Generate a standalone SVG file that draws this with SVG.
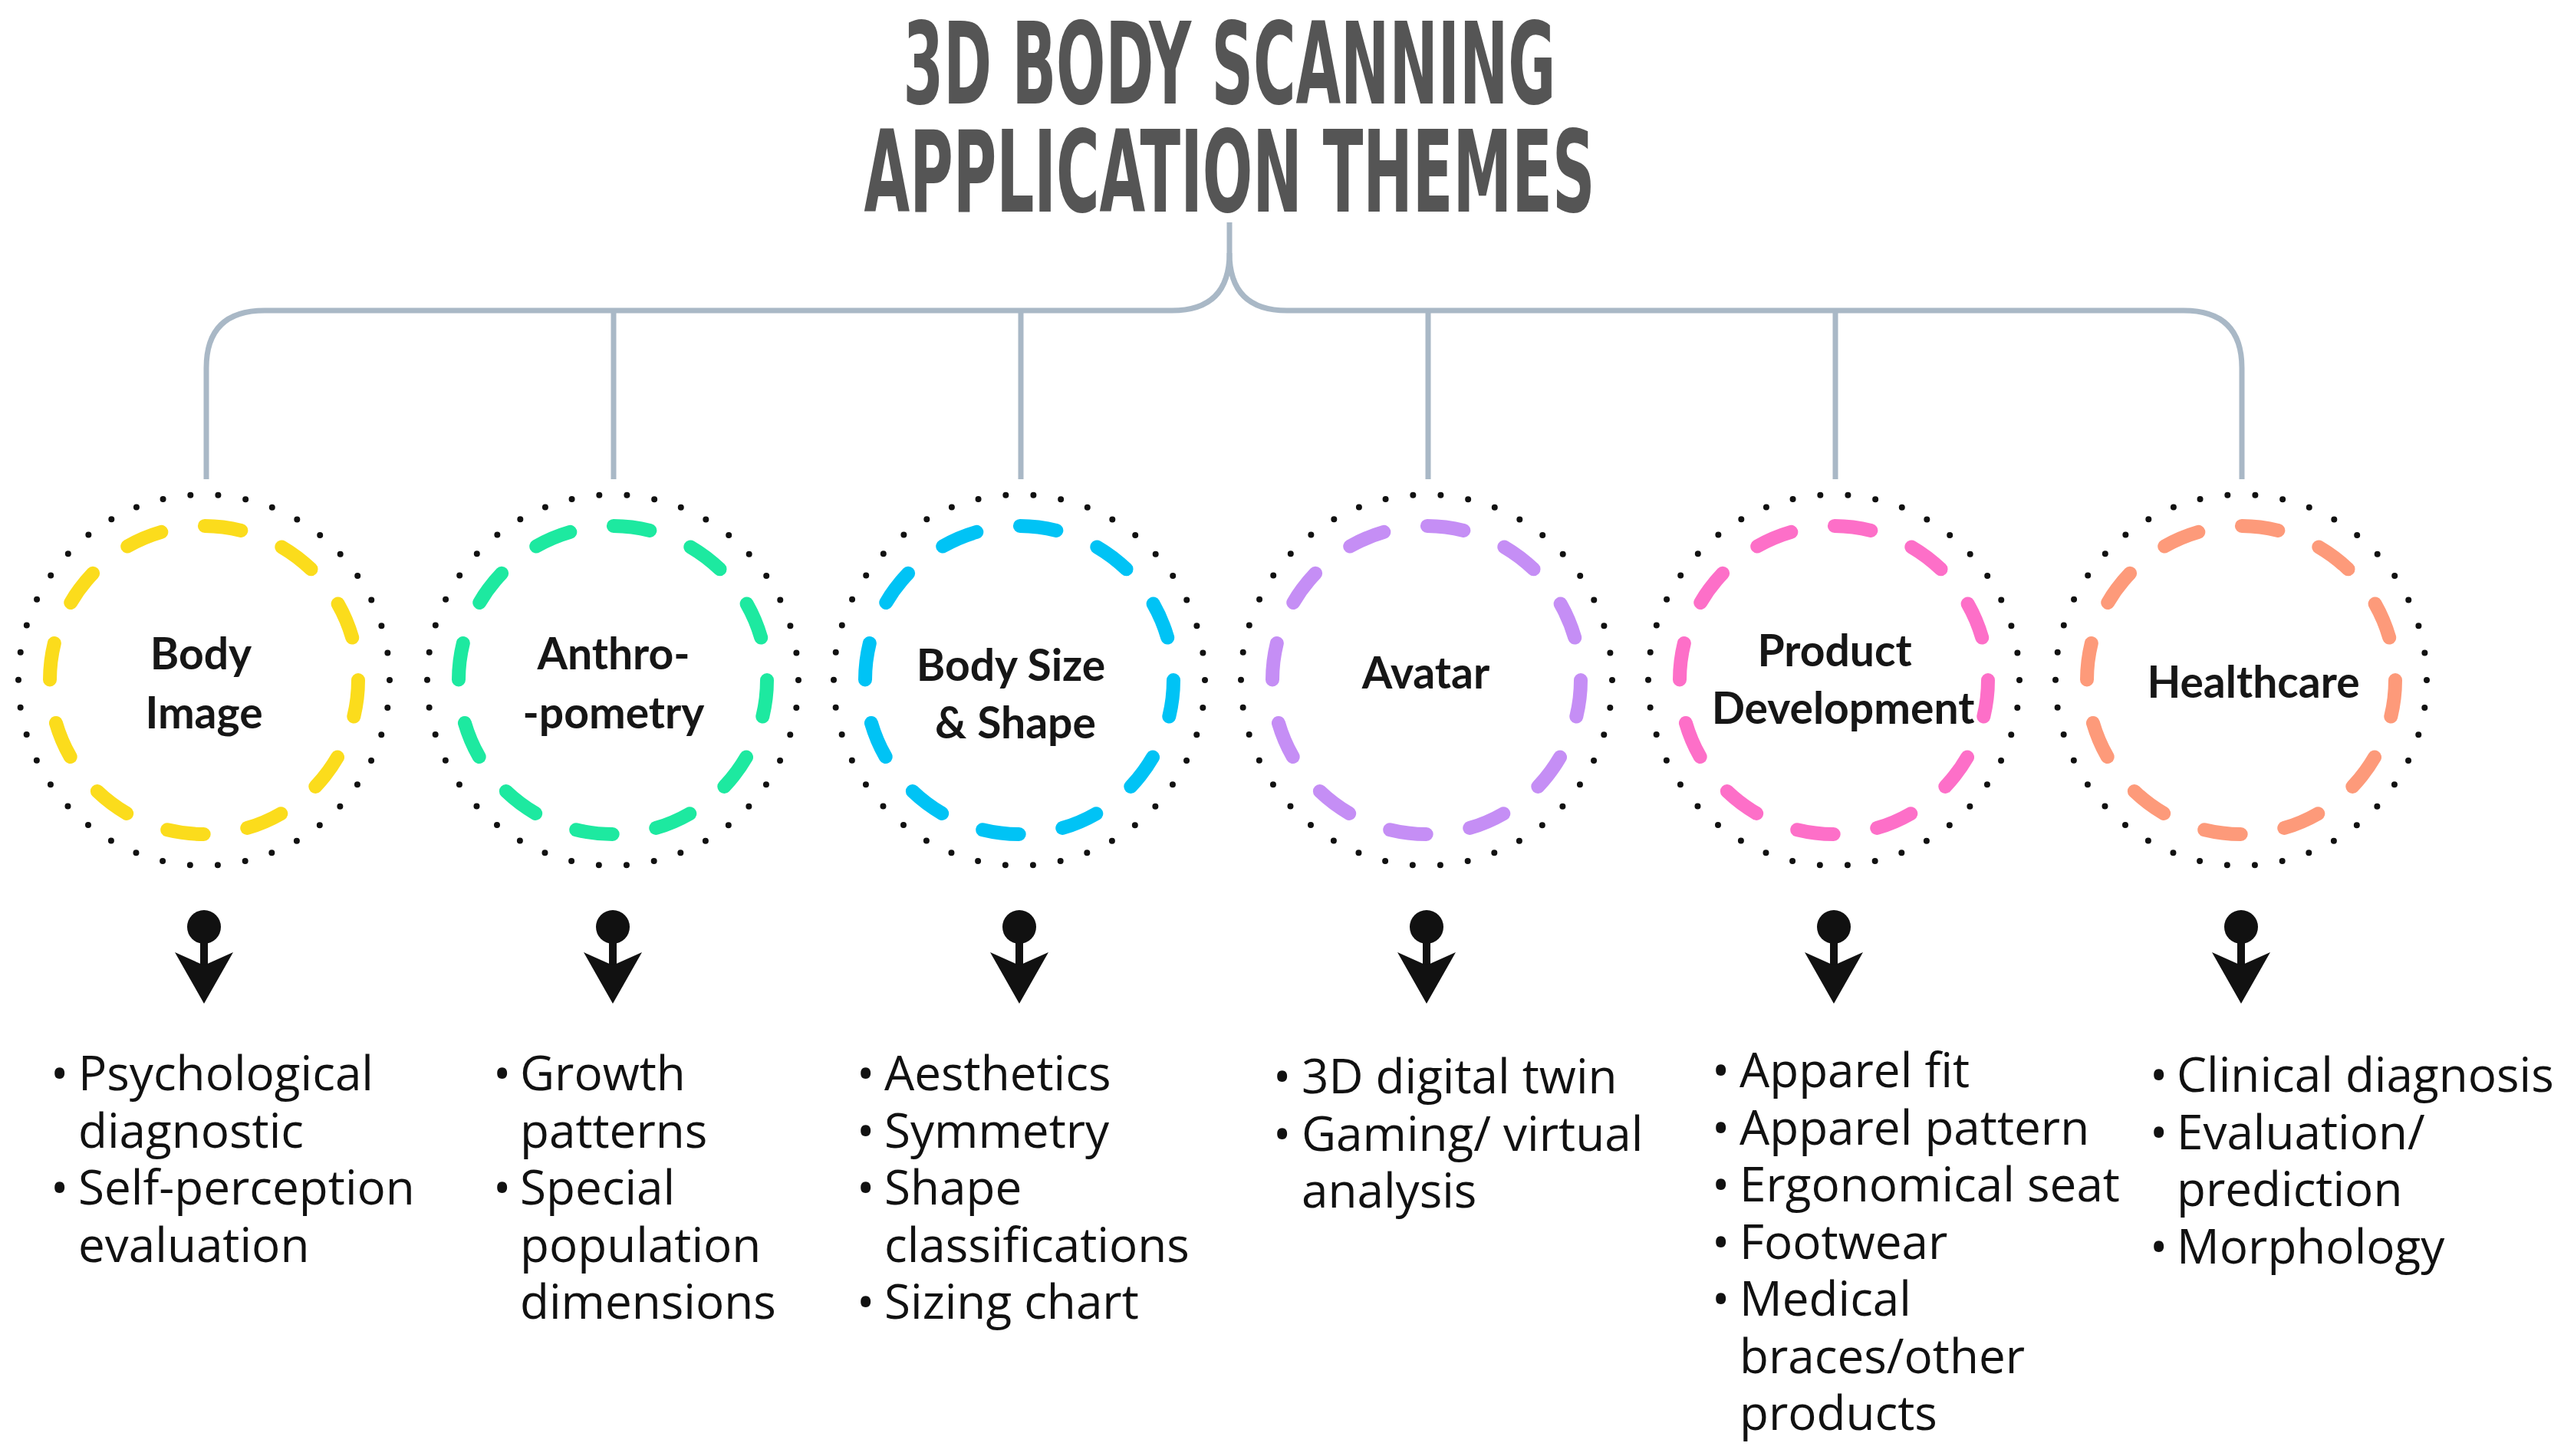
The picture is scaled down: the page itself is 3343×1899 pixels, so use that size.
<svg xmlns="http://www.w3.org/2000/svg" width="3343" height="1899" viewBox="0 0 3343 1899">
<style>
.title{font-family:"DejaVu Sans Condensed","Liberation Sans Narrow","Roboto",sans-serif;font-weight:bold;font-size:148px;fill:#555;text-anchor:middle}
.br{fill:none;stroke:#a9b8c6;stroke-width:7}
.dots{fill:none;stroke:#111;stroke-width:8;stroke-linecap:round;stroke-dasharray:0 36.2}
.dash{fill:none;stroke-width:18;stroke-linecap:round;stroke-dasharray:48 57.3}
.lbl{font-family:"Lato","Open Sans",sans-serif;font-weight:bold;font-size:57px;fill:#161616;text-anchor:middle}
.bl{font-family:"Open Sans","Noto Sans",sans-serif;font-size:62px;fill:#111}
</style>
<defs>
<g id="pin"><circle cx="0" cy="0" r="22" fill="#111"/><rect x="-5" y="0" width="10" height="55" fill="#111"/><path d="M-38 33 L0 100 L38 33 L0 50 Z" fill="#111"/></g>
</defs>
<g id="title">
<text class="title" x="1603" y="135" textLength="851" lengthAdjust="spacingAndGlyphs">3D BODY SCANNING</text>
<text class="title" x="1603" y="276" textLength="953" lengthAdjust="spacingAndGlyphs">APPLICATION THEMES</text>
</g>
<g id="connectors">
<path class="br" d="M1603 290 V330 Q1603 405 1528 405 H345 Q269 405 269 480 V625"/>
<path class="br" d="M1603 330 Q1603 405 1678 405 H2847 Q2923 405 2923 480 V625"/>
<path class="br" d="M800 405 V625 M1331 405 V625 M1862 405 V625 M2393 405 V625"/>
<use href="#pin" x="266" y="1209"/>
<use href="#pin" x="799" y="1209"/>
<use href="#pin" x="1329" y="1209"/>
<use href="#pin" x="1860" y="1209"/>
<use href="#pin" x="2391" y="1209"/>
<use href="#pin" x="2922" y="1209"/>
</g>
<g id="n1"><circle class="dots" cx="266" cy="887" r="242"/><circle class="dash" cx="266" cy="887" r="201" stroke="#fbdc1c"/>
<text class="lbl" x="262" y="873">Body</text><text class="lbl" x="266" y="950">Image</text></g>
<g id="n2"><circle class="dots" cx="799" cy="887" r="242"/><circle class="dash" cx="799" cy="887" r="201" stroke="#1de9a0"/>
<text class="lbl" x="800" y="873">Anthro-</text><text class="lbl" x="800" y="950">-pometry</text></g>
<g id="n3"><circle class="dots" cx="1329" cy="887" r="242"/><circle class="dash" cx="1329" cy="887" r="201" stroke="#00c3f5"/>
<text class="lbl" x="1318" y="888">Body Size</text><text class="lbl" x="1324" y="963">&amp; Shape</text></g>
<g id="n4"><circle class="dots" cx="1860" cy="887" r="242"/><circle class="dash" cx="1860" cy="887" r="201" stroke="#c58ef5"/>
<text class="lbl" x="1859" y="898">Avatar</text></g>
<g id="n5"><circle class="dots" cx="2391" cy="887" r="242"/><circle class="dash" cx="2391" cy="887" r="201" stroke="#fd6fc8"/>
<text class="lbl" x="2392" y="869">Product</text><text class="lbl" x="2403" y="944">Development</text></g>
<g id="n6"><circle class="dots" cx="2922" cy="887" r="242"/><circle class="dash" cx="2922" cy="887" r="201" stroke="#fd9a7a"/>
<text class="lbl" x="2938" y="910">Healthcare</text></g>
<g id="list1" class="bl">
<text x="66" y="1422">•</text><text x="102" y="1422">Psychological</text>
<text x="102" y="1497">diagnostic</text>
<text x="66" y="1571">•</text><text x="102" y="1571">Self-perception</text>
<text x="102" y="1646">evaluation</text>
</g>
<g id="list2" class="bl">
<text x="643" y="1422">•</text><text x="678" y="1422">Growth</text>
<text x="678" y="1497">patterns</text>
<text x="643" y="1571">•</text><text x="678" y="1571">Special</text>
<text x="678" y="1646">population</text>
<text x="678" y="1720">dimensions</text>
</g>
<g id="list3" class="bl">
<text x="1117" y="1422">•</text><text x="1153" y="1422">Aesthetics</text>
<text x="1117" y="1497">•</text><text x="1153" y="1497">Symmetry</text>
<text x="1117" y="1571">•</text><text x="1153" y="1571">Shape</text>
<text x="1153" y="1646">classifications</text>
<text x="1117" y="1720">•</text><text x="1153" y="1720">Sizing chart</text>
</g>
<g id="list4" class="bl">
<text x="1660" y="1426">•</text><text x="1697" y="1426">3D digital twin</text>
<text x="1660" y="1501">•</text><text x="1697" y="1501">Gaming/ virtual</text>
<text x="1697" y="1575">analysis</text>
</g>
<g id="list5" class="bl">
<text x="2232" y="1418">•</text><text x="2268" y="1418">Apparel fit</text>
<text x="2232" y="1493">•</text><text x="2268" y="1493">Apparel pattern</text>
<text x="2232" y="1567">•</text><text x="2268" y="1567">Ergonomical seat</text>
<text x="2232" y="1642">•</text><text x="2268" y="1642">Footwear</text>
<text x="2232" y="1716">•</text><text x="2268" y="1716">Medical</text>
<text x="2268" y="1791">braces/other</text>
<text x="2268" y="1865">products</text>
</g>
<g id="list6" class="bl">
<text x="2803" y="1424">•</text><text x="2838" y="1424">Clinical diagnosis</text>
<text x="2803" y="1499">•</text><text x="2838" y="1499">Evaluation/</text>
<text x="2838" y="1573">prediction</text>
<text x="2803" y="1648">•</text><text x="2838" y="1648">Morphology</text>
</g>
</svg>
